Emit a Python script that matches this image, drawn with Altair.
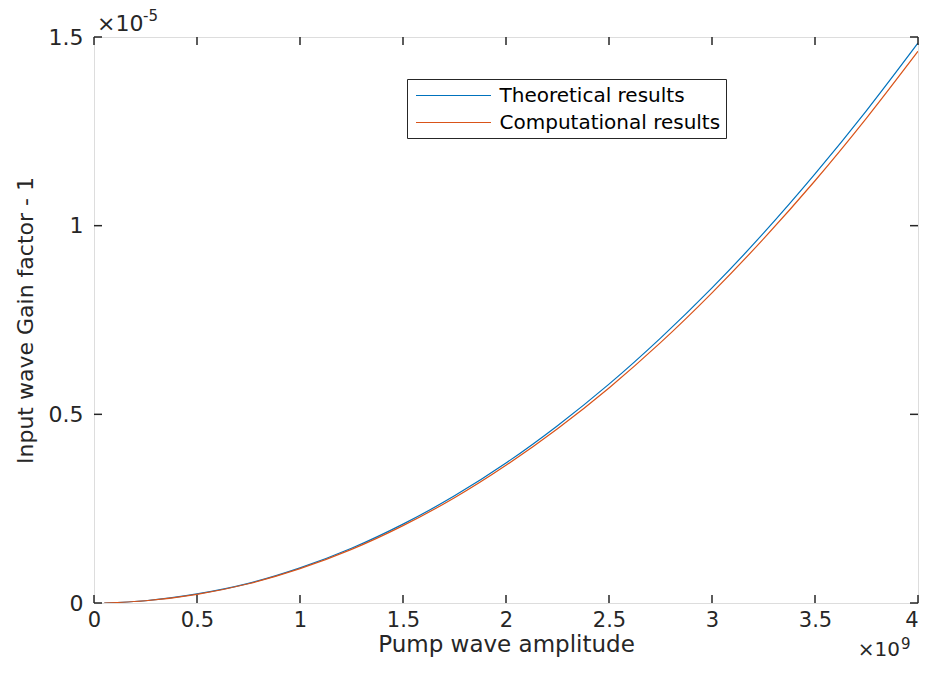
import altair as alt
import pandas as pd

FONT = "DejaVu Sans"

# pump wave amplitude (x 1e9)
amplitude = [0.05, 0.25, 0.5, 0.75, 1.0, 1.25, 1.5, 1.75, 2.0, 2.25, 2.5, 2.75, 3.0, 3.25, 3.5, 3.75, 4.0]
# gain factor - 1 (x 1e-5)
theoretical = [0.0, 0.006, 0.024, 0.052, 0.093, 0.145, 0.209, 0.284, 0.371, 0.470, 0.580, 0.702, 0.835, 0.980, 1.137, 1.305, 1.484]
computational = [0.0, 0.006, 0.023, 0.051, 0.091, 0.142, 0.205, 0.279, 0.365, 0.462, 0.570, 0.690, 0.822, 0.965, 1.119, 1.285, 1.462]

series_names = ["Theoretical results", "Computational results"]
series_colors = ["#0072BD", "#D95319"]

x_ticks = [0, 0.5, 1, 1.5, 2, 2.5, 3, 3.5, 4]
y_ticks = [0, 0.5, 1, 1.5]

W, H = 824, 566

rows = []
for xv, t, c in zip(amplitude, theoretical, computational):
    rows.append({"x": xv, "y": t, "series": series_names[0]})
    rows.append({"x": xv, "y": c, "series": series_names[1]})
df = pd.DataFrame(rows)

xscale = alt.Scale(domain=[0, 4], nice=False, zero=False)
yscale = alt.Scale(domain=[0, 1.5], nice=False, zero=False)

lines = alt.Chart(df).mark_line(strokeWidth=1.2, clip=True, interpolate="monotone").encode(
    x=alt.X("x:Q", scale=xscale,
            axis=alt.Axis(values=x_ticks, title="Pump wave amplitude", domain=False, ticks=False,
                          grid=False, labelFontSize=21, labelFont=FONT, labelColor="#262626",
                          labelPadding=6, titleFontSize=23, titleFont=FONT, titleFontWeight="normal",
                          titleColor="#262626", titlePadding=3, labelExpr="'' + datum.value",
                          labelAlign=alt.expr("datum.value == 4 ? 'right' : 'center'"),
                          labelFlush=False)),
    y=alt.Y("y:Q", scale=yscale,
            axis=alt.Axis(values=y_ticks, title="Input wave Gain factor - 1", domain=False, ticks=False,
                          grid=False, labelFontSize=22, labelFont=FONT, labelColor="#262626",
                          labelPadding=11, titleFontSize=22, titleFont=FONT, titleFontWeight="normal",
                          titleColor="#262626", titlePadding=11, labelExpr="'' + datum.value",
                          labelFlush=False)),
    color=alt.Color("series:N", sort=series_names,
                    scale=alt.Scale(domain=series_names, range=series_colors),
                    legend=alt.Legend(orient="none", legendX=313, legendY=42, title=None,
                                      symbolType="M-3.75,0H3.75", symbolSize=400,
                                      symbolStrokeWidth=1.2, symbolOffset=30,
                                      labelFontSize=20, labelFont=FONT, labelColor="black",
                                      labelOffset=35, padding=5.5, rowPadding=6,
                                      strokeColor="#262626", fillColor="white", cornerRadius=0,
                                      labelLimit=400)),
)

xt = pd.DataFrame({"v": x_ticks})
yt = pd.DataFrame({"v": y_ticks})

tick_bottom = alt.Chart(xt).mark_rule(color="#262626", strokeWidth=1.5).encode(
    x=alt.X("v:Q", scale=xscale), y=alt.value(H), y2=alt.value(H - 8))
tick_top = alt.Chart(xt).mark_rule(color="#262626", strokeWidth=1.5).encode(
    x=alt.X("v:Q", scale=xscale), y=alt.value(0), y2=alt.value(8))
tick_left = alt.Chart(yt).mark_rule(color="#262626", strokeWidth=1.5).encode(
    y=alt.Y("v:Q", scale=yscale), x=alt.value(0), x2=alt.value(8))
tick_right = alt.Chart(yt).mark_rule(color="#262626", strokeWidth=1.5).encode(
    y=alt.Y("v:Q", scale=yscale), x=alt.value(W), x2=alt.value(W - 8))

top_anchor = pd.DataFrame({"x": [0], "y": [1.5]})
bot_anchor = pd.DataFrame({"x": [4], "y": [0]})

mult_top = alt.Chart(top_anchor).mark_text(align="left", baseline="alphabetic", dx=3, dy=-6,
                                           fontSize=22, font=FONT, color="#262626").encode(
    x=alt.X("x:Q", scale=xscale), y=alt.Y("y:Q", scale=yscale), text=alt.value("×10"))
mult_top_exp = alt.Chart(top_anchor).mark_text(align="left", baseline="alphabetic", dx=49, dy=-16,
                                               fontSize=15, font=FONT, color="#262626").encode(
    x=alt.X("x:Q", scale=xscale), y=alt.Y("y:Q", scale=yscale), text=alt.value("-5"))
mult_bot = alt.Chart(bot_anchor).mark_text(align="right", baseline="alphabetic", dx=-18, dy=53,
                                           fontSize=20, font=FONT, color="#262626").encode(
    x=alt.X("x:Q", scale=xscale), y=alt.Y("y:Q", scale=yscale), text=alt.value("×10"))
mult_bot_exp = alt.Chart(bot_anchor).mark_text(align="left", baseline="alphabetic", dx=-17, dy=46,
                                               fontSize=15, font=FONT, color="#262626").encode(
    x=alt.X("x:Q", scale=xscale), y=alt.Y("y:Q", scale=yscale), text=alt.value("9"))

chart = alt.layer(lines, tick_bottom, tick_top, tick_left, tick_right,
                  mult_top, mult_top_exp, mult_bot, mult_bot_exp).properties(
    width=W, height=H,
    autosize=alt.AutoSizeParams(type="none"),
    padding={"left": 86, "top": 29, "right": 1, "bottom": 58},
).configure_view(stroke="#262626", strokeWidth=1.5).configure(background="white")

chart.save("out.html", embed_options={"renderer": "svg", "actions": False})
